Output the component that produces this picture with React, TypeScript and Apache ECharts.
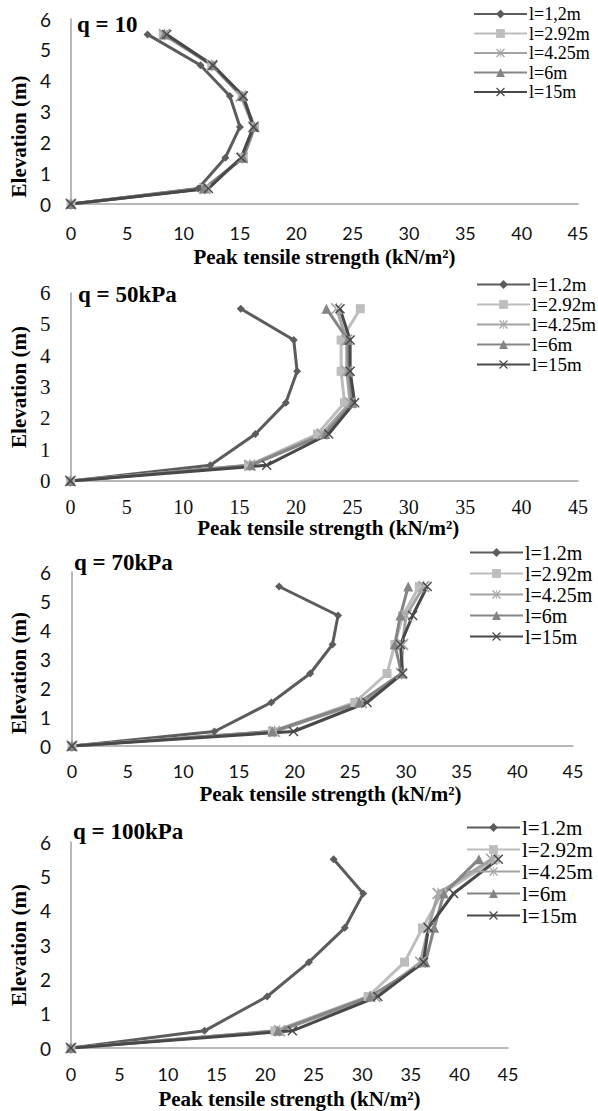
import React, { useEffect, useRef } from "react";
import * as echarts from "echarts";

// ---- data ----
const elevations = [0, 0.5, 1.5, 2.5, 3.5, 4.5, 5.5];
const namesQ10 = ["l=1,2m", "l=2.92m", "l=4.25m", "l=6m", "l=15m"];
const names = ["l=1.2m", "l=2.92m", "l=4.25m", "l=6m", "l=15m"];
const panelTitles = ["q = 10", "q = 50kPa", "q = 70kPa", "q = 100kPa"];
const xTitle = "Peak tensile strength (kN/m²)";
const yTitle = "Elevation (m)";

// q = 10
const q10_l12 = [0, 11.3, 13.7, 15.0, 14.1, 11.5, 6.8];
const q10_l292 = [0, 12.0, 15.3, 16.3, 15.2, 12.5, 8.2];
const q10_l425 = [0, 11.9, 15.2, 16.2, 15.1, 12.5, 8.3];
const q10_l6 = [0, 11.8, 15.3, 16.3, 15.2, 12.6, 8.3];
const q10_l15 = [0, 12.2, 15.1, 16.2, 15.3, 12.6, 8.5];
// q = 50
const q50_l12 = [0, 12.4, 16.4, 19.1, 20.1, 19.8, 15.1];
const q50_l292 = [0, 15.8, 21.9, 24.3, 24.0, 24.0, 25.7];
const q50_l425 = [0, 15.9, 22.3, 24.8, 24.5, 24.5, 23.6];
const q50_l6 = [0, 16.0, 22.6, 25.0, 24.7, 24.6, 22.7];
const q50_l15 = [0, 17.4, 22.9, 25.2, 24.8, 24.8, 23.9];
// q = 70
const q70_l12 = [0, 12.8, 17.9, 21.4, 23.4, 23.9, 18.6];
const q70_l292 = [0, 18.0, 25.4, 28.3, 29.0, 29.7, 31.2];
const q70_l425 = [0, 18.2, 26.0, 29.6, 29.7, 30.0, 31.6];
const q70_l6 = [0, 18.0, 25.8, 29.6, 29.0, 29.5, 30.2];
const q70_l15 = [0, 19.9, 26.5, 29.7, 29.5, 30.6, 31.9];
// q = 100
const q100_l12 = [0, 13.75, 20.2, 24.5, 28.2, 30.1, 27.05];
const q100_l292 = [0, 21.0, 30.6, 34.35, 36.2, 38.2, 43.7];
const q100_l425 = [0, 21.5, 31.3, 36.0, 36.8, 37.8, 43.3];
const q100_l6 = [0, 21.3, 30.8, 36.5, 37.4, 38.4, 42.0];
const q100_l15 = [0, 22.8, 31.6, 36.3, 36.8, 39.4, 44.0];

const panelData = [
  [q10_l12, q10_l292, q10_l425, q10_l6, q10_l15],
  [q50_l12, q50_l292, q50_l425, q50_l6, q50_l15],
  [q70_l12, q70_l292, q70_l425, q70_l6, q70_l15],
  [q100_l12, q100_l292, q100_l425, q100_l6, q100_l15],
];
const panelNames = [namesQ10, names, names, names];

// ---- styles ----
const SERIF = "'Liberation Serif', 'Times New Roman', serif";
const SANS = "Lato, 'Open Sans', sans-serif";
const colors = ["#5c5c5c", "#bdbdbd", "#a3a3a3", "#858585", "#484848"];
const X_PATH = "path://M0,1 L1,0 L5,4 L9,0 L10,1 L6,5 L10,9 L9,10 L5,6 L1,10 L0,9 L4,5 Z";
const AST_PATH =
  "path://M0,1 L1,0 L5,4 L9,0 L10,1 L6,5 L10,9 L9,10 L5,6 L1,10 L0,9 L4,5 Z M4.6,0 L4.6,10 L5.4,10 L5.4,0 Z";
const symbols = ["diamond", "rect", AST_PATH, "triangle", X_PATH];
const symbolSizes = [8, 9, 12, 10, 10];

const layouts = [
  { left: 54, top: 19, width: 524, height: 185, labelFont: SANS, labelSize: 18, xMargin: 20, yMargin: 20,
    xNameGap: 42, yNameGap: 28, yPad: [0, 50, 0, 0], xPad: [0, 0, 0, 0], titleLeft: 77, titleTop: 13,
    legLeft: 473, legTop: 5, legFont: 18, legGap: 1.5 },
  { left: 63, top: 293, width: 515, height: 188, labelFont: SERIF, labelSize: 20, xMargin: 16, yMargin: 20,
    xNameGap: 35, yNameGap: 34, yPad: [0, 0, 0, 0], xPad: [0, 0, 0, 8], titleLeft: 78, titleTop: 283,
    legLeft: 476, legTop: 275, legFont: 19, legGap: 1 },
  { left: 68, top: 572, width: 505, height: 174, labelFont: SANS, labelSize: 18, xMargin: 16, yMargin: 21,
    xNameGap: 37, yNameGap: 39, yPad: [0, 28, 0, 0], xPad: [0, 0, 0, 16], titleLeft: 74, titleTop: 551,
    legLeft: 469, legTop: 542.5, legFont: 20, legGap: 1 },
  { left: 66, top: 842, width: 442, height: 206, labelFont: SANS, labelSize: 18, xMargin: 17, yMargin: 20,
    xNameGap: 40, yNameGap: 37, yPad: [0, 0, 0, 0], xPad: [0, 0, 0, 0], titleLeft: 73, titleTop: 820,
    legLeft: 466, legTop: 817, legFont: 21, legGap: 1 },
];

function buildOption() {
  const grid: any[] = [];
  const xAxis: any[] = [];
  const yAxis: any[] = [];
  const title: any[] = [];
  const legend: any[] = [];
  const series: any[] = [];
  const axisLine = { show: true, lineStyle: { color: "#a0a0a0", width: 1.5 } };

  layouts.forEach((L, p) => {
    grid.push({ left: L.left, top: L.top, width: L.width, height: L.height, containLabel: false });
    xAxis.push({
      type: "value", gridIndex: p, min: 0, max: 45, interval: 5,
      axisLine, axisTick: { show: false }, splitLine: { show: false },
      axisLabel: { fontFamily: L.labelFont, fontSize: L.labelSize, color: "#111", margin: L.xMargin },
      name: xTitle, nameLocation: "middle", nameGap: L.xNameGap,
      nameTextStyle: { fontFamily: SERIF, fontWeight: "bold", fontSize: 21, color: "#000", padding: L.xPad },
    });
    yAxis.push({
      type: "value", gridIndex: p, min: 0, max: 6, interval: 1,
      axisLine, axisTick: { show: false }, splitLine: { show: false },
      axisLabel: { fontFamily: L.labelFont, fontSize: L.labelSize + 1, color: "#111", margin: L.yMargin },
      name: yTitle, nameLocation: "middle", nameGap: L.yNameGap,
      nameTextStyle: { fontFamily: SERIF, fontWeight: "bold", fontSize: 21, color: "#000", padding: L.yPad },
    });
    title.push({
      text: panelTitles[p], left: L.titleLeft, top: L.titleTop, padding: 0,
      textStyle: { fontFamily: SERIF, fontWeight: "bold", fontSize: 23, color: "#000" },
    });
    legend.push({
      data: panelNames[p], orient: "vertical", left: L.legLeft, top: L.legTop, padding: 0,
      itemWidth: 53, itemHeight: 11, itemGap: L.legGap, selectedMode: false,
      textStyle: {
        fontFamily: SERIF, fontSize: L.legFont, lineHeight: L.legFont, color: "#000",
        padding: [0, 0, 0, -3],
      },
    });
    panelData[p].forEach((vals, s) => {
      series.push({
        type: "line", name: panelNames[p][s], xAxisIndex: p, yAxisIndex: p,
        data: elevations.map((e, i) => [vals[i], e]),
        symbol: symbols[s], symbolSize: symbolSizes[s],
        lineStyle: { width: 3, color: colors[s] },
        itemStyle: { color: colors[s] },
      });
    });
  });

  return { animation: false, backgroundColor: "#fff", grid, xAxis, yAxis, title, legend, series };
}

export default function App() {
  const ref = useRef<HTMLDivElement>(null);
  useEffect(() => {
    if (!ref.current) return;
    const chart = echarts.init(ref.current, null, { renderer: "svg" });
    chart.setOption(buildOption() as any);
    return () => chart.dispose();
  }, []);
  return (
    <div
      ref={ref}
      style={{ position: "absolute", left: 0, top: 0, width: 598, height: 1111, background: "#fff" }}
    />
  );
}
